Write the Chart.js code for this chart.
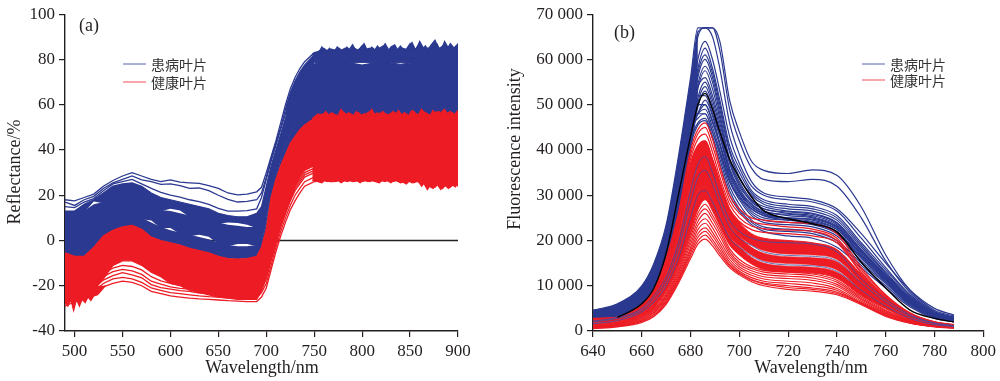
<!DOCTYPE html>
<html><head><meta charset="utf-8">
<style>html,body{margin:0;padding:0;background:#fff;width:1000px;height:381px;overflow:hidden}
canvas{position:absolute;top:0;left:0}</style>
<script src="https://cdn.jsdelivr.net/npm/chart.js@4/dist/chart.umd.min.js"></script>
</head><body>
<div style="position:absolute;left:0;top:0;width:495px;height:381px"><canvas id="ca" width="495" height="381"></canvas></div>
<div style="position:absolute;left:495px;top:0;width:505px;height:381px"><canvas id="cb" width="505" height="381"></canvas></div>
<script>
const legendLabels=["患病叶片","健康叶片"];
const xTicksA=[500,550,600,650,700,750,800,850,900];
const yTicksA=[-40,-20,0,20,40,60,80,100];
const xTicksB=[640,660,680,700,720,740,760,780,800];
const yTicksB=[0,10000,20000,30000,40000,50000,60000,70000];
const BLUE="#2b3990",RED="#ed1c24";

/* panel (a) */
const wa=[490,500,510,520,530,540,550,560,570,580,590,600,610,620,630,640,650,660,670,680,690,695,700,705,710,715,720,725,730,735,740,750,760,780,800,820,840,860,880,900];
const zeroX=[490,900],zeroY=[0,0];
const blueLineA=[18,17.5,19,20.5,24,26.5,28.5,30,28.5,27,26,26.8,25.8,25.5,25.2,24.2,23,21,20.2,20.5,21.5,23.5,30,37,44,52,60,67,72,76,79,83,84,84,84,84,84,85,85,85];
const blueLineB=[17,15.5,18,19.5,23,25.5,27,28.5,26.8,26,24.8,25,24.2,23,23.2,22,20,18.2,17,17.3,18,21,28,36,43,50,58,65,70,74,77,80,80,80,80,80,80,81,81,81];
const blueLineC=[15,14.5,17,18.5,22,25,26,27,25,23,21.3,20,19.2,18,17.2,16,14.2,13,13,13.2,14,19,27,35,42,49,56,63,68,71,74,77,79,79,79,79,79,79,79,79];
const blueBody=[13,13,16,18,21,24,25,25.5,24,21,19,18,17,16,15,14,12,11,10.5,10.5,12,15,24,33,40,47,54,60,66,70,75,78,79,79,77.5,79,77.8,79,79,79];
const wr=[720,725,730,735,740,750];
const riseTop=[59,66,71,75,78,82.5];
const riseBottom=[54,60,66,70,75,78];
const gapOneUpper=[9.4,10.4,12.4,17.2,16.4,16.4,16.4,15.4,14.4,13.4,12.9,14,13.2,10.4,9.4,8.4,7.4,8,7.7,7,5.4,5.4,9.4,19.4,27.4,35.4,41.4,47.4,53.4,57.4,61.4,64.4,64.4,64.4,64.4,64.4,64.4,64.4,64.4,64.4];
const gapOneLower=[10,11,13,16,17,17,17,16,15,14,13.5,13,12,11,10,9,8,7,6.5,6,6,6,10,20,28,36,42,48,54,58,62,65,65,65,65,65,65,65,65,65];
const gapTwoUpper=[1.4,1.4,2.4,5.4,8.4,10.4,11.4,11.4,9.4,8.8,5.4,5.5,2.9,1.9,2.5,1.7,-1.6,-2.6,-1.5,-1.5,-2.6,-0.6,7.4,19.4,27.4,33.4,38.4,43.4,46.4,49.4,51.4,54.4,55.4,56.4,56.4,56.4,56.4,56.4,56.4,56.4];
const gapTwoLower=[2,2,3,6,9,11,12,12,10,8,6,4.5,3.5,2.5,1.5,0.5,-1,-2,-2.5,-2.5,-2,0,8,20,28,34,39,44,47,50,52,55,56,57,57,57,57,57,57,57];
const redTop=[-5.5,-7,-7,-3,2,4.5,6,6.7,5,1.5,0,-1,-2,-3.5,-4.5,-5.5,-7,-8,-8.2,-8,-7,-3,5,19,27,33,38,43,46,49,51,54,55,55,55,55,55,55,55,55];
const redBody=[-28,-26,-25,-22,-17,-11,-9,-9,-11,-14,-16,-19,-20,-22,-23,-24,-25,-25.5,-26,-26,-26,-22,-16,-8,-1,6,12,18,24,28,31,33,33,33,33,33,33,33,33,33];
const redLineA=[-29,-27,-26,-24,-20.5,-19,-18,-18.5,-20,-22.5,-23.5,-24.5,-25,-25.5,-25.8,-26,-26.3,-26.6,-26.8,-27,-27,-25,-21,-13,-5,2,8,13.5,17.5,21,24,26,26.5,26.5,26.5,26.5,26.5,26,25,25];
const redLineB=[-28,-26,-25,-22.5,-19,-17,-16.3,-17,-18.5,-21,-22,-23,-23.5,-24,-24.5,-24.8,-25,-25.3,-25.5,-25.5,-25.5,-23,-19,-11,-3,4,10,15.5,20,23,26,28,29,29,29,29,29,29,29,29];
const redLineC=[-27,-26,-24,-21,-17.5,-15.5,-14.2,-15.2,-16.5,-19.5,-20.8,-21.5,-22.2,-22.5,-23.2,-23.5,-24,-24.3,-24.5,-24.5,-24.5,-22,-17,-9,-1,6,12,17.5,22,25,28,30,31,31,31,31,31,31,31,31];
const redLineD=[-26.5,-25.5,-23.5,-20,-16,-13.8,-12.8,-13.4,-15,-18,-19.3,-20.5,-21.2,-21.5,-22.2,-22.5,-23,-23.5,-24,-24,-24,-21,-15.5,-8,-0.5,6.5,12.5,18,23,26,29,31,32,32,32,32,32,32,32,32];
const redLineE=[-26,-25,-23,-19.5,-14.5,-12.2,-11,-11.5,-13,-16,-17.8,-19,-19.8,-20.5,-21.2,-21.5,-22.5,-23,-23.5,-23.5,-23.5,-20.5,-15,-7,0,7,13,18.5,24,27,30,32,33,33,33,33,33,33,33,33];
const wl=[490,493,496,499,502,505,508,511,514,517,520,524,528,532];
const redLowJag=[-27,-29,-26,-31,-26,-29,-26,-27.5,-25,-26.5,-24.5,-24,-22,-20];
const wn=[748,752,756,760,764,768,772,776,780,784,788,792,796,800,804,808,812,816,820,824,828,832,836,840,844,848,852,856,860,864,868,872,876,880,884,888,892,896,900];
const wn2=[750,754,758,762,766,770,774,778,782,786,790,794,798,802,806,810,814,818,822,826,830,834,838,842,846,850,854,858,862,866,870,874,878,882,886,890,894,898];
const blueJag=[82.5,83,84,85,83.5,84.5,84,85,83.5,85.5,84,85,84,86,84.5,85,83.5,86,84,87,84,85.5,84,86,83.5,85,87.5,84,88,85,84,86.5,88.5,84.5,86,84,87,85,87];
const blueJag2=[81,82.5,85.5,83,85,83,85.5,84,85,84,86.5,83.5,85,87,83.5,85.5,84,85,86,83,85.5,86.5,83.5,85,84.5,87,83,86,84,86,83,85.5,87,83.5,88,85,84,86];
const redJagTop=[54,55,55.5,56,55,56.5,55.5,55,57,55.5,56,55,56.5,55,56,57,55.5,56.5,55,56,55.5,57,56,55,56.5,55,57.5,56,55.5,57,56,55,56.5,57,55.5,56,57,55.5,57.5];
const redJagTop2=[54.5,56,54.5,57,55,56,54.5,58,55,56.5,54.5,57,55,56,55,58,55,56,57,54.5,56,55,57.5,55,56,54.5,57,55,58,55.5,54.5,57.5,55,56.5,58,55,56.5,55];
const redJagBottom=[26.5,26,27,26.5,26,27,26,26.5,27,26,26.5,26,27,26,26.5,26,27,26,26.5,26,27,26,26.5,25.5,26,26.5,25.5,26,26,25.5,22.5,25,23.5,25.5,23,25,23.5,25,24];
const redJagBottom2=[27,26,25.5,27,26,26,27,25.5,26.5,27,26,26.5,25.5,27,26,26.5,26,25.5,27,26.5,25.5,27,26,26,25,26.5,25.5,26.5,24,26,24,23,25,22.5,24.5,23,24.5,23.5];

/* panel (b): intensity in thousands */
const wb=[640,650,660,665,670,675,680,683,686,689,692,696,700,705,710,720,730,740,750,760,770,780,788];
const wbLeft=[640,650,660,665,670,675,680,683];
const flankEdge=[4.6,6,10,15,23.5,38.5,56,67];
const flankInner=[2.6,3,6,9.5,17.2,30,43,50];
const blueCurves=[
[4.6,6,10,15,23.5,38.5,56,67,67,67,64,51,44,37.5,35.5,34.8,35.6,34.4,27.4,16.8,9,4.6,3.3],
[4.5,5.8,9.8,14.5,22.5,37,54,66,67,67,62,49,42,36,33.5,33,33.5,32,25,15.5,8.5,4.3,3.1],
[4.4,5.6,9.5,14,21.5,35,52,65,67,65,58,46,39,33,30.5,29.6,29,27,21.5,15,9,5,3.5],
[4,5,8.6,11.8,18.5,29,49,60,64,60,53,43,37,32,30,29,28.5,26.5,20.5,14,8,4.2,3],
[3.9,4.9,8.4,11.5,18,28,47,58,62.5,58,51,41,36,31,29,28,27.5,25.5,19.5,13.5,7.8,4,2.9],
[3.8,4.8,8.2,11.3,17.5,27.5,46,57,61,57,50,40,35,30.5,28.5,27.5,27,25,19,13,7.5,3.9,2.8],
[3.7,4.7,8,11,17,27,45,56,60,56,49,39.5,34,30,28,27,26.5,24.5,18.5,12.8,7.3,3.8,2.7],
[3.6,4.6,7.9,10.8,16.7,26.5,44,54.5,58.5,55,48,38,33,29,27.5,26.5,26,24,18,12.5,7.2,3.7,2.7],
[3.6,4.5,7.8,10.6,16.4,26,43,53.5,57.5,53.5,47,37.5,32.5,28.5,27,26,25.5,23.5,17.7,12.2,7,3.6,2.6],
[3.5,4.4,7.6,10.3,16,25.5,42,51.5,55,51,45,36,31.5,28,26.5,25.5,25,23,17.5,12,6.8,3.5,2.5],
[3.4,4.3,7.4,10.1,15.7,25,41,50.5,54,50,44,35.5,31,27.5,26,25,24.5,22.5,17,11.7,6.6,3.4,2.5],
[3.3,4.2,7.2,9.9,15.4,24.5,40,49.5,53,49,43,35,30.5,27,25.5,24.5,24,22,16.5,11.5,6.5,3.4,2.4],
[3.3,4.2,7.5,10.5,16.5,26.5,43,48,51,47.5,41.5,34,30,26.5,25,24.5,23.8,21.8,16.2,11.2,6.3,3.3,2.4],
[3.2,4.1,7.6,10.8,17,27.5,44,48,50,46,41,33.5,29.5,26,24.5,24,23.5,21.5,16,11,6.2,3.2,2.3],
[3.1,4,7.5,11,17.5,28,45,48,49,45,40,33,29,25.5,24,23.5,23,21,15.5,10.8,6,3.2,2.3],
[3,3.9,7.3,10.5,16.8,27,44,47,48,44,39,32,28,24.5,23,22.5,22,20,15,10.5,5.8,3,2.2],
[3,3.8,7,10,16,26,42,46,47,43,38,31,27,24,22.5,22,21.5,19.5,14.5,10,5.6,3,2.1],
[2.9,3.7,6.8,9.8,15.5,25.5,41,45.5,46.5,42.5,37,30,26.5,23.5,22,21,20.5,18.5,14,9.5,5.3,2.8,2],
[3.4,4.3,7.8,11.2,17.5,28,45,48,48,44,39.5,33,29.5,27,25.5,25,24.7,22.8,17,11.5,6.4,3.3,2.4],
[3.5,4.5,8.1,11.4,17.9,28.5,46,50,50,46.5,41.5,34.5,30.5,27.5,25.8,24.8,24.2,22.4,16.8,11.3,6.3,3.3,2.4],
[3.7,4.6,8.3,11.6,18.2,29,47,52,52,48,43,35.5,31,28,26.2,25.8,25.2,23.2,17.4,11.8,6.6,3.4,2.5],
[3.8,4.7,8.5,11.9,18.6,29.5,48,54,56,52,46,37,32,28.8,27,26.3,25.8,23.8,17.9,12.3,6.9,3.6,2.6]
];
const redCurves=[
[2.8,3,5.8,9,16,26,40,44.5,46,42.5,36.5,30,27,25,24.5,24,23.7,21.5,14,8,4,2,1.4],
[2.7,3,5.7,8.9,15.6,25.4,39,43.6,45,41,35.5,29,26,24.2,23.6,23,22.5,20.5,13.5,7.8,3.9,2,1.4],
[2.6,2.9,5.6,8.8,15.2,24.8,38,42.4,43.5,39.5,34,28,25,23.2,22.6,22.3,22,20,13,7.5,3.8,1.9,1.3],
[2.5,2.8,5.4,8.5,14.5,24,37,41,42,38,33,27,24.2,22.4,21.8,21.5,21,19.5,12.8,7.3,3.7,1.9,1.3]
];
const redBandTop=[2.5,2.8,5.4,8.5,14.5,24,37,41,42,38,33,27,24,21.5,20.5,20,19.5,18,12.5,7.3,3.7,1.9,1.3];
const redBandOneEnd=[1.9,2.4,4.7,7.5,12.5,21,32,35.5,36.5,33,28.5,23.5,21,19,17.8,17,16.8,15.8,10.8,6.5,3.3,1.7,1.2];
const redBandTwoTop=[1.9,2.4,4.7,7.5,12.5,21,32,35.5,36.5,33,28.5,23.5,21,18.5,17.2,16.4,16.2,15.3,10.8,6.5,3.3,1.7,1.2];
const redBandTwoEnd=[1.5,2.1,4.1,6.3,10.5,17.5,27,31,32,29,25.5,21,18.8,16.8,15.5,14.9,14.6,13.5,9.1,5.6,2.9,1.5,1];
const redBandThreeTop=[1.5,2.1,4.1,6.3,10.5,17.5,27,31,32,29,25.5,21,18.6,16.3,15,14.3,14.1,13,9.1,5.6,2.9,1.5,1];
const redBandBottom=[1.1,1.7,3.4,5.3,8.8,14.2,22,26.8,29,26.5,23.2,19,16.8,14.8,13.6,13,12.8,11.6,7.8,4.9,2.5,1.3,0.9];
const redLower=[
[1.1,1.7,3.3,5.1,8.4,13.7,21.5,26,28,25.6,22.6,18.2,15.8,14.2,13.4,13,12.6,11.2,7.5,4.6,2.4,1.2,0.9],
[1,1.6,3.1,4.9,8,13.2,20.8,25.2,27,24.8,21.8,17.6,15.2,13.8,13,12.6,12.2,10.8,7.2,4.4,2.3,1.2,0.9],
[0.9,1.5,3,4.7,7.7,12.8,20,24.2,26,23.8,21,17,14.7,13.3,12.5,12.1,11.7,10.3,6.9,4.2,2.2,1.1,0.8],
[0.9,1.4,2.8,4.5,7.4,12.3,19.2,23.3,24.8,22.8,20,16.4,14.2,12.8,12,11.6,11.2,9.9,6.6,4,2.1,1.1,0.8],
[0.8,1.3,2.6,4.2,7.1,11.8,18.4,22.4,23.8,21.8,19.2,15.8,13.7,12.3,11.5,11,10.6,9.4,6.3,3.8,2,1,0.8],
[0.7,1.2,2.4,4,6.8,11.5,17.8,21.5,22.8,21,18.5,15.2,13.2,11.8,11,10.5,10,9,6,3.6,1.9,1,0.7],
[0.7,1.1,2.2,3.7,6.5,11.2,17.2,20.7,22,20.2,17.8,14.7,12.9,11.4,10.6,10,9.5,8.6,6.1,3.5,1.8,1,0.7],
[0.6,1,2.1,3.4,6.2,10.9,16.6,19.9,21.2,19.5,17.2,14.4,12.7,11.2,10.4,9.6,9.2,8.3,6,3.4,1.8,1,0.7],
[0.5,0.9,1.9,3.2,5.9,10.5,16,19.2,20.3,18.8,16.6,14,12.4,10.9,10,9.2,8.8,8,5.8,3.2,1.7,0.9,0.6]
];
const blueStreaks=[
[2.2,3,5,7.8,12,19.5,31,36.8,38.5,35,30,24.5,22,20.5,19.8,19.5,19.2,17.5,11.5,7,3.6,1.8,1.2],
[2,2.8,4.6,7.2,11,18,28.5,34,35.5,32.5,28,23,20.5,18.9,17.5,16.7,16.5,15.5,10.5,6.4,3.3,1.7,1.1],
[1.6,2.3,4.2,6.4,10,16,25,30,31,28.5,25,20.5,18.5,16.6,15.3,14.6,14.4,13.2,9,5.5,2.8,1.4,1]
];
const blackCurve=[null,3,6,9.5,17.2,30,43,50,52.5,49,44,38,33.8,29.6,26.6,24.8,23.7,21.9,15.2,9.5,4.6,2.8,2];

const seg=(label,xs,ys,color,w,extra)=>Object.assign({label,data:xs.map((x,i)=>({x,y:ys[i]})),borderColor:color,backgroundColor:color,borderWidth:w,pointRadius:0,pointHoverRadius:0,fill:false,tension:0},extra||{});
const edge=(label,xs,ys,color,fill,extra)=>seg(label,xs,ys,'transparent',1,Object.assign({backgroundColor:color,fill:fill||false},extra||{}));
const finish=ds=>{ds.forEach((d,i)=>d.order=ds.length-i);return ds;};

const [D,H]=legendLabels;
const dsA=[];
dsA.push(seg('y=0',zeroX,zeroY,'#222',1.5));
dsA.push(seg(D,wa,blueBody,BLUE,1.2,{fill:'+1'}));
dsA.push(edge(D,wa,gapOneUpper,BLUE));
dsA.push(edge(D,wa,gapOneLower,BLUE,'+1'));
dsA.push(edge(D,wa,gapTwoUpper,BLUE));
dsA.push(edge(D,wa,gapTwoLower,BLUE,'+1'));
dsA.push(edge(D,wa,redTop,BLUE));
dsA.push(edge(D,wr,riseTop,BLUE,'+1'));
dsA.push(edge(D,wr,riseBottom,BLUE));
dsA.push(seg(D,wn,blueJag,BLUE,1.2,{fill:{value:78.5}}));
dsA.push(seg(D,wn2,blueJag2,BLUE,1.2,{fill:{value:78.5}}));
[blueLineA,blueLineB,blueLineC].forEach(a=>dsA.push(seg(D,wa,a,BLUE,1.3)));
dsA.push(seg(H,wa,redTop,RED,1.2,{fill:'+1'}));
dsA.push(seg(H,wa,redBody,RED,1.2));
[redLineA,redLineB,redLineC,redLineD,redLineE].forEach(a=>dsA.push(seg(H,wa,a,RED,1.3)));
dsA.push(seg(H,wl,redLowJag,RED,1.2,{fill:{value:-20}}));
[[wn,redJagTop],[wn2,redJagTop2],[wn,redJagBottom],[wn2,redJagBottom2]].forEach(p=>dsA.push(seg(H,p[0],p[1],RED,1.2,{fill:{value:40}})));
finish(dsA);

const k=a=>a.map(v=>v===null?null:v*1000);
const mono={cubicInterpolationMode:'monotone'};
const dsB=[];
dsB.push(edge(D,wbLeft,k(flankEdge),BLUE,'+1',mono));
dsB.push(edge(D,wbLeft,k(flankInner),BLUE,false,mono));
blueCurves.forEach(a=>dsB.push(seg(D,wb,k(a),BLUE,1.2,mono)));
redCurves.forEach(a=>dsB.push(seg(H,wb,k(a),RED,1.2,mono)));
dsB.push(seg(H,wb,k(redBandTop),RED,1,{...mono,fill:'+1'}));
dsB.push(seg(H,wb,k(redBandOneEnd),RED,0.6,mono));
dsB.push(seg(H,wb,k(redBandTwoTop),RED,0.6,{...mono,fill:'+1'}));
dsB.push(seg(H,wb,k(redBandTwoEnd),RED,0.6,mono));
dsB.push(seg(H,wb,k(redBandThreeTop),RED,0.6,{...mono,fill:'+1'}));
dsB.push(seg(H,wb,k(redBandBottom),RED,1,mono));
redLower.forEach(a=>dsB.push(seg(H,wb,k(a),RED,1.15,mono)));
blueStreaks.forEach(a=>dsB.push(seg(D,wb,k(a),'#3a4fa8',0.8,mono)));
dsB.push(seg('black',wb,k(blackCurve),'#000',1.4,mono));
finish(dsB);

const SERIF='"Liberation Serif","Times New Roman",serif';
const INK='#231f20';
function axis(min,max,ticks,fit,fmt){
  return {type:'linear',min,max,
    afterBuildTicks:s=>{s.ticks=ticks.map(v=>({value:v}));},
    afterFit:fit,
    grid:{drawOnChartArea:false,drawTicks:true,tickLength:6,color:INK,lineWidth:1.2},
    border:{display:true,color:INK,width:1.4},
    ticks:{color:INK,font:{family:SERIF,size:17},padding:4,autoSkip:false,maxRotation:0,minRotation:0,callback:fmt||(v=>String(v))}};
}
const annot=cfg=>({id:'annot',afterDraw(c){
  const x=c.ctx;x.save();
  x.fillStyle=INK;x.textBaseline='middle';x.textAlign='left';
  x.font='18px '+SERIF;x.fillText(cfg.tag,cfg.tagX,cfg.tagY);
  x.textAlign='center';x.fillText('Wavelength/nm',cfg.xtX,cfg.xtY);
  x.save();x.translate(cfg.ytX,cfg.ytY);x.rotate(-Math.PI/2);x.fillText(cfg.yt,0,0);x.restore();
  x.textAlign='left';x.font='14px "Noto Sans CJK SC"';x.fillStyle='#333';
  legendLabels.forEach((t,i)=>{
    const y=cfg.legY[i];
    x.strokeStyle=i?'#f0505a':'#5562ad';x.lineWidth=1;
    x.beginPath();x.moveTo(cfg.legX,y);x.lineTo(cfg.legX+cfg.legW,y);x.stroke();
    x.fillText(t,cfg.legX+cfg.legW+5,y+1);
  });
  x.restore();
}});
const fmtB=v=>v===0?'0':String(v/1000)+' 000';
function make(id,ds,xa,ya,pad,cfg){
  return new Chart(document.getElementById(id),{type:'line',data:{datasets:ds},plugins:[annot(cfg)],
    options:{responsive:false,animation:false,parsing:false,normalized:true,
      layout:{padding:pad},
      plugins:{legend:{display:false},tooltip:{enabled:false},title:{display:false}},
      scales:{x:xa,y:ya}}});
}
make('ca',dsA,
  axis(490,900,xTicksA,s=>{s.height=50;}),
  axis(-40,100,yTicksA,s=>{s.width=65;}),
  {left:0,top:14,right:37,bottom:0},
  {tag:'(a)',tagX:79,tagY:26,xtX:262,xtY:368,yt:'Reflectance/%',ytX:15,ytY:172,legX:123,legW:23,legY:[64,82]});
make('cb',dsB,
  axis(640,800,xTicksB,s=>{s.height=50;}),
  axis(0,70000,yTicksB,s=>{s.width=98;},fmtB),
  {left:0,top:14,right:14,bottom:0},
  {tag:'(b)',tagX:119,tagY:33,xtX:316,xtY:368,yt:'Fluorescence intensity',ytX:20,ytY:149,legX:367,legW:23,legY:[64,80]});
</script>
</body></html>
